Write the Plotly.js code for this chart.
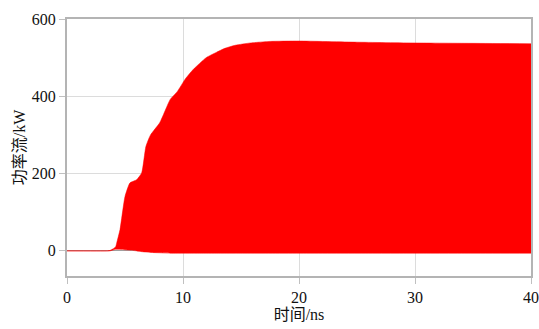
<!DOCTYPE html>
<html>
<head>
<meta charset="utf-8">
<script src="https://cdn.plot.ly/plotly-3.0.1.min.js"></script>
<style>html,body{margin:0;padding:0;background:#fff;}#chart{width:539px;height:329px;}</style>
</head>
<body>
<div id="chart"></div>
<script>
// time (ns)
const timeNs = [0, 3.5, 3.7, 3.95, 4.2, 4.28, 4.57, 5.0, 5.43, 6.0, 6.44, 6.8, 7.2, 8.0, 8.9, 9.5, 10.2, 10.9, 12.0, 12.9, 13.6, 14.5, 15.8, 17.5, 20, 25, 30, 35, 40];
// upper envelope of power flow (kW)
const upperKW = [0, 0, 1, 5, 11, 20, 55, 141, 176, 184, 202, 270, 300, 332, 392, 412, 445, 470, 500, 514, 524, 532, 538, 542, 543, 540, 538, 537, 536];
// lower envelope of power flow (kW)
const lowerKW = [0, 0, 0, 2, 4, 4, 4, 3, 2, 0, -2, -3, -4, -5, -6, -6, -6, -6, -6, -6, -6, -6, -6, -6, -6, -6, -6, -6, -6];

const xTicks = [0, 10, 20, 30, 40];
const yTicks = [0, 200, 400, 600];

const serif = "Liberation Serif, Times New Roman, Noto Sans CJK SC, serif";

const traces = [
  {x: timeNs, y: lowerKW, type: 'scatter', mode: 'lines', line: {color: '#ff0000', width: 0.5, shape: 'spline', smoothing: 0.5}, hoverinfo: 'skip', showlegend: false},
  {x: timeNs, y: upperKW, type: 'scatter', mode: 'lines', fill: 'tonexty', fillcolor: '#ff0000', line: {color: '#ff0000', width: 0.5, shape: 'spline', smoothing: 0.5}, showlegend: false}
];

const layout = {
  width: 539, height: 329,
  margin: {l: 67, r: 8, t: 19, b: 53},
  paper_bgcolor: '#ffffff', plot_bgcolor: '#ffffff',
  font: {family: serif, size: 16, color: '#111'},
  xaxis: {
    range: [0, 40], tickvals: xTicks, ticktext: xTicks.map(String),
    showgrid: true, gridcolor: '#dcdcdc', gridwidth: 1,
    showline: true, linecolor: '#b4b4b4', linewidth: 2, mirror: true,
    ticks: 'outside', ticklen: 6, tickcolor: '#c0c0c0',
    zeroline: false,
    tickfont: {family: serif, size: 16, color: '#111'},
    title: {text: '时间/ns', font: {family: serif, size: 16, color: '#111'}, standoff: 4}
  },
  yaxis: {
    range: [-65, 600], tickvals: yTicks, ticktext: yTicks.map(String),
    showgrid: true, gridcolor: '#dcdcdc', gridwidth: 1,
    showline: true, linecolor: '#b4b4b4', linewidth: 2, mirror: true,
    ticks: 'outside', ticklen: 6, tickcolor: '#c0c0c0',
    zeroline: true, zerolinecolor: '#a0a0a0', zerolinewidth: 1,
    tickfont: {family: serif, size: 16, color: '#111'},
    title: {text: '功率流/kW', font: {family: serif, size: 16, color: '#111'}, standoff: 2}
  }
};

Plotly.newPlot('chart', traces, layout, {displayModeBar: false, staticPlot: true});
</script>
</body>
</html>
